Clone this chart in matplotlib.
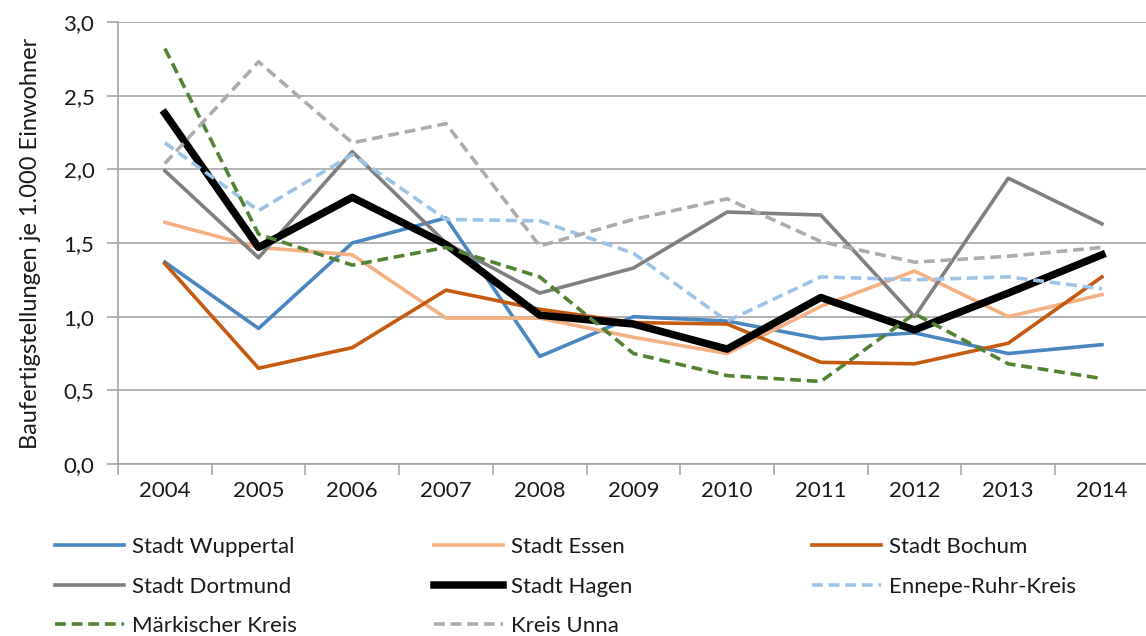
import matplotlib
matplotlib.use("Agg")
from matplotlib import pyplot as plt
from matplotlib.ticker import FixedLocator, FuncFormatter

years = [2004, 2005, 2006, 2007, 2008, 2009, 2010, 2011, 2012, 2013, 2014]

wuppertal = [1.37, 0.92, 1.50, 1.67, 0.73, 1.00, 0.97, 0.85, 0.89, 0.75, 0.81]
essen     = [1.64, 1.47, 1.42, 0.99, 0.99, 0.86, 0.75, 1.07, 1.31, 1.00, 1.15]
bochum    = [1.36, 0.65, 0.79, 1.18, 1.05, 0.96, 0.95, 0.69, 0.68, 0.82, 1.27]
dortmund  = [1.99, 1.40, 2.12, 1.50, 1.16, 1.33, 1.71, 1.69, 1.00, 1.94, 1.63]
hagen     = [2.38, 1.47, 1.81, 1.49, 1.01, 0.95, 0.78, 1.13, 0.91, 1.16, 1.42]
ennepe    = [2.18, 1.72, 2.10, 1.66, 1.65, 1.43, 0.97, 1.27, 1.25, 1.27, 1.19]
maerkisch = [2.82, 1.56, 1.35, 1.47, 1.27, 0.75, 0.60, 0.56, 1.02, 0.68, 0.58]
unna      = [2.04, 2.73, 2.18, 2.31, 1.48, 1.66, 1.80, 1.51, 1.37, 1.41, 1.47]

plt.rcParams['font.family'] = ['Lato', 'DejaVu Sans']
txt = '#1a1a1a'
fs = 16

fig = plt.figure(figsize=(11.46, 6.36), dpi=100)
ax = fig.add_axes([118 / 1146, 1 - 464 / 636, 1028 / 1146, 442 / 636])

lw = 2.6
dash = (3, 1.6)
l1, = ax.plot(years, wuppertal, color='#4A86BF', lw=lw, label='Stadt Wuppertal')
l2, = ax.plot(years, essen, color='#F4B183', lw=lw, label='Stadt Essen')
l3, = ax.plot(years, bochum, color='#C55A11', lw=lw, label='Stadt Bochum')
l4, = ax.plot(years, dortmund, color='#808080', lw=lw, label='Stadt Dortmund')
l5, = ax.plot(years, hagen, color='black', lw=5.4, label='Stadt Hagen')
l6, = ax.plot(years, ennepe, color='#9DC3E6', lw=lw, dashes=dash, label='Ennepe-Ruhr-Kreis')
l7, = ax.plot(years, maerkisch, color='#548235', lw=lw, dashes=dash, label='Märkischer Kreis')
l8, = ax.plot(years, unna, color='#AFABAB', lw=lw, dashes=dash, label='Kreis Unna')

ax.set_xlim(2003.5, 2014.47)
ax.set_ylim(0, 3.0)
ax.yaxis.set_major_locator(FixedLocator([0, 0.5, 1.0, 1.5, 2.0, 2.5, 3.0]))
ax.yaxis.set_major_formatter(FuncFormatter(lambda v, p: ('%.1f' % v).replace('.', ',')))
ax.grid(axis='y', color='#A6A6A6', lw=1.2)
ax.set_axisbelow(True)

ax.xaxis.set_major_locator(FixedLocator([y - 0.5 for y in years]))
ax.xaxis.set_major_formatter(FuncFormatter(lambda v, p: ''))
ax.xaxis.set_minor_locator(FixedLocator(years))
ax.xaxis.set_minor_formatter(FuncFormatter(lambda v, p: '%d' % v))
ax.tick_params(axis='x', which='major', length=8, color='#A6A6A6', width=1.2)
ax.tick_params(axis='x', which='minor', length=0, pad=12, labelsize=fs, labelcolor=txt)
ax.tick_params(axis='y', length=8, color='#A6A6A6', width=1.2, labelsize=fs, labelcolor=txt, pad=9)

for s in ['top', 'right']:
    ax.spines[s].set_visible(False)
for s in ['left', 'bottom']:
    ax.spines[s].set_color('#A6A6A6')
    ax.spines[s].set_linewidth(1.2)

ax.set_ylabel('Baufertigstellungen je 1.000 Einwohner', fontsize=17, color=txt, labelpad=16)

# legend: three columns placed like the Excel layout
cols = [([l1, l4, l7], 55), ([l2, l5, l8], 434), ([l3, l6], 812)]
for handles, x0 in cols:
    leg = fig.legend(handles=handles, loc='upper left',
                     bbox_to_anchor=(x0 / 1146, 1 - 537 / 636),
                     frameon=False, fontsize=fs, handlelength=3.1,
                     handletextpad=0.35, labelspacing=0.88,
                     borderaxespad=0, borderpad=0)
    for t in leg.get_texts():
        t.set_color(txt)

fig.savefig('out.png', dpi=100)
